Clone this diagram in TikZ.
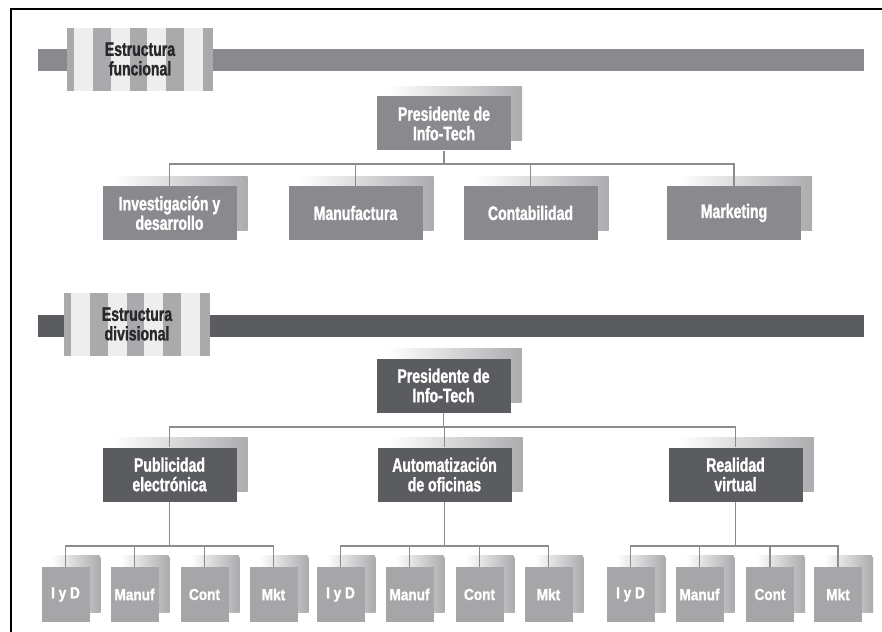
\documentclass[tikz,border=0pt]{standalone}
\usepackage{fontspec}
\setmainfont{Liberation Sans}[FakeStretch=0.72, BoldFeatures={FakeBold=1.3}]
\newfontfamily\smallboxfont{Liberation Sans}[FakeStretch=0.85, BoldFeatures={FakeBold=1.3}]
\usetikzlibrary{shadows}
\definecolor{boxmid}{RGB}{138,138,142}
\definecolor{boxdark}{RGB}{91,92,96}
\definecolor{boxlight}{RGB}{166,166,168}
\definecolor{linegray}{RGB}{140,140,140}
\definecolor{stripedark}{RGB}{170,170,172}
\definecolor{stripelight}{RGB}{238,238,238}
\definecolor{shadowgray}{RGB}{172,172,175}
\definecolor{bannertext}{RGB}{40,40,42}

\begin{document}
\begin{tikzpicture}[x=1pt, y=-1pt,
    box/.style={rectangle, fill=boxmid, minimum width=134pt, minimum height=54pt, inner sep=0pt, align=center, text=white,
        font=\bfseries\fontsize{19.5}{19.5}\selectfont,
        general shadow={shadow xshift=11pt, shadow yshift=10pt, left color=white, right color=shadowgray}},
    divbox/.style={box, fill=boxdark},
    smallbox/.style={box, fill=boxlight, minimum width=48pt, minimum height=55pt, font=\smallboxfont\bfseries\fontsize{16}{18}\selectfont,
        general shadow={shadow xshift=10pt, shadow yshift=12pt, left color=white, right color=shadowgray}},
    banner/.style={align=center, text=bannertext, font=\bfseries\fontsize{19.5}{19.5}\selectfont},
    link/.style={draw=linegray, line width=1.5pt}]
\useasboundingbox (0,0) rectangle (882,631);
% frame
\draw[line width=1.6pt] (11,640) -- (11,9) -- (890,9);

% banner funcional
\fill[boxmid] (38,49) rectangle (864,71);
\fill[stripelight] (67,28) rectangle (213,91);
\foreach \a/\b in {67/74, 93/111, 130/147, 166/184, 203/213}
    \fill[stripedark] (\a,28) rectangle (\b,91);
\node[banner] (funcional) at (140,59) {Estructura\\funcional};

% estructura funcional
\node[box] (pres1) at (444,123.5) {Presidente de\\Info-Tech};
\node[box] (inv) at (169.5,213) {Investigación y\\desarrollo};
\node[box] (man) at (355.5,213) {Manufactura};
\node[box] (con) at (530.5,213) {Contabilidad};
\node[box] (mkt) at (734,213) {Marketing};
\coordinate (j1) at (444,164);
\draw[link] (pres1) -- (j1);
\draw[link] (j1) -| (inv);
\draw[link] (j1) -| (man);
\draw[link] (j1) -| (con);
\draw[link] (j1) -| (mkt);

% banner divisional
\fill[boxdark] (38,315) rectangle (864,337);
\fill[stripelight] (64,293) rectangle (210,356);
\foreach \a/\b in {64/71, 90/108, 127/144, 163/181, 200/210}
    \fill[stripedark] (\a,293) rectangle (\b,356);
\node[banner] (divisional) at (137,324) {Estructura\\divisional};

% estructura divisional
\node[divbox] (pres2) at (443.5,385.5) {Presidente de\\Info-Tech};
\node[divbox] (pub) at (169.5,474.5) {Publicidad\\electrónica};
\node[divbox] (aut) at (444.5,474.5) {Automatización\\de oficinas};
\node[divbox] (rea) at (735.5,474.5) {Realidad\\virtual};
\coordinate (j2) at (443.5,427);
\draw[link] (pres2) -- (j2);
\draw[link] (j2) -| (pub);
\draw[link] (j2) -| (aut);
\draw[link] (j2) -| (rea);

% publicidad
\node[smallbox] (pubiyd) at (65.5,594.5) {I y D};
\node[smallbox] (pubman) at (134.5,594.5) {Manuf};
\node[smallbox] (pubcon) at (204.5,594.5) {Cont};
\node[smallbox] (pubmkt) at (273.5,594.5) {Mkt};
\coordinate (j3) at (169.5,546);
\draw[link] (pub) -- (j3);
\draw[link] (j3) -| (pubiyd);
\draw[link] (j3) -| (pubman);
\draw[link] (j3) -| (pubcon);
\draw[link] (j3) -| (pubmkt);

% automatizacion
\node[smallbox] (autiyd) at (340.5,594.5) {I y D};
\node[smallbox] (autman) at (409.5,594.5) {Manuf};
\node[smallbox] (autcon) at (479.5,594.5) {Cont};
\node[smallbox] (autmkt) at (548.5,594.5) {Mkt};
\coordinate (j4) at (444.5,546);
\draw[link] (aut) -- (j4);
\draw[link] (j4) -| (autiyd);
\draw[link] (j4) -| (autman);
\draw[link] (j4) -| (autcon);
\draw[link] (j4) -| (autmkt);

% realidad virtual
\node[smallbox] (reaiyd) at (630.5,594.5) {I y D};
\node[smallbox] (reaman) at (699.5,594.5) {Manuf};
\node[smallbox] (reacon) at (770,594.5) {Cont};
\node[smallbox] (reamkt) at (838,594.5) {Mkt};
\coordinate (j5) at (735.5,546);
\draw[link] (rea) -- (j5);
\draw[link] (j5) -| (reaiyd);
\draw[link] (j5) -| (reaman);
\draw[link] (j5) -| (reacon);
\draw[link] (j5) -| (reamkt);
\end{tikzpicture}
\end{document}
